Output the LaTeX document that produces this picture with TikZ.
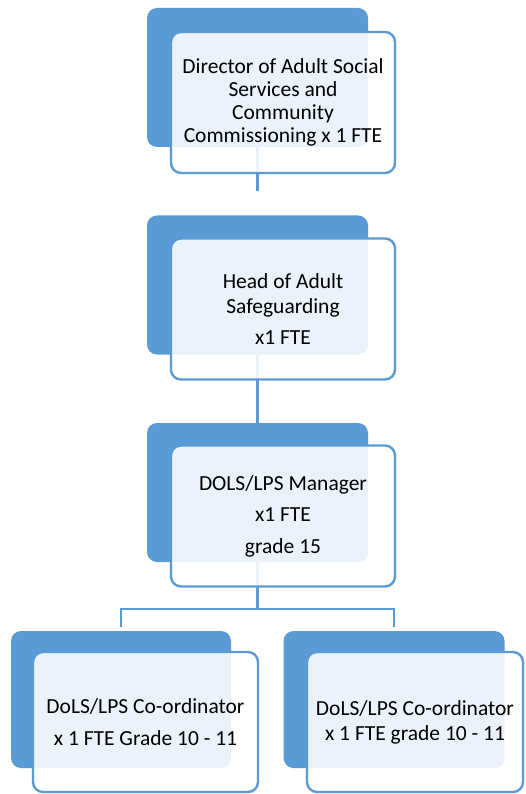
\documentclass[tikz,border=0pt]{standalone}
\usepackage{fontspec}
\setmainfont{Carlito}
\definecolor{obl}{HTML}{5B9BD5}
\tikzset{
  backbox/.style={rectangle, rounded corners=10pt, fill=obl, draw=none,
    minimum width=221pt, minimum height=139pt, inner sep=0pt},
  frontbox/.style={rectangle, rounded corners=10pt, draw=obl, line width=2.4pt,
    fill=white, fill opacity=0.88, text opacity=1, minimum width=224pt,
    minimum height=141pt, align=center, inner sep=0pt, text=black},
  conn/.style={draw=obl, line width=2.6pt}
}
\begin{document}
\begin{tikzpicture}[x=1pt,y=-1pt]
\useasboundingbox (0,0) rectangle (525,794);
\fill[white] (0,0) rectangle (525,794);
% back boxes
\node[backbox] (b1) at (257.5,77.5) {};
\node[backbox] (b2) at (257.5,285) {};
\node[backbox] (b3) at (257.5,492.5) {};
\node[backbox, minimum width=220pt, minimum height=137pt] (b4) at (121,699.5) {};
\node[backbox, minimum width=221pt, minimum height=137pt] (b5) at (394,699.5) {};
% connectors
\coordinate (c1) at (257.5,191);
\coordinate (j) at (257.5,609);
\coordinate (jl) at (121,609);
\coordinate (jr) at (394,609);
\coordinate (e4) at (121,627);
\coordinate (e5) at (394,627);
\draw[conn] (b1.south) -- (c1);
\draw[conn] (b2.south) -- (b3.north);
\draw[conn] (b3.south) -- (j);
\draw[conn, line cap=rect] (jl) -- (jr);
\draw[conn] (jl) -- (e4);
\draw[conn] (jr) -- (e5);
% front boxes
\node[frontbox, font=\fontsize{21.5}{22.8}\selectfont] (f1) at (283,102.5)
  {Director of Adult Social\\Services and\\Community\\Commissioning x 1 FTE};
\node[frontbox, font=\fontsize{21.5}{25}\selectfont] (f2) at (283,309)
  {Head of Adult\\Safeguarding\\[6pt]x1 FTE};
\node[frontbox, font=\fontsize{21.5}{31.5}\selectfont] (f3) at (283,516)
  {DOLS/LPS Manager\\x1 FTE\\grade 15};
\node[frontbox, minimum width=225pt, minimum height=140pt, font=\fontsize{21.5}{32}\selectfont] (f4) at (145.5,722)
  {DoLS/LPS Co-ordinator\\x 1 FTE Grade 10 - 11};
\node[frontbox, minimum width=216pt, minimum height=140pt, font=\fontsize{21.5}{25}\selectfont] (f5) at (415,722)
  {DoLS/LPS Co-ordinator\\x 1 FTE grade 10 - 11};
\end{tikzpicture}
\end{document}
